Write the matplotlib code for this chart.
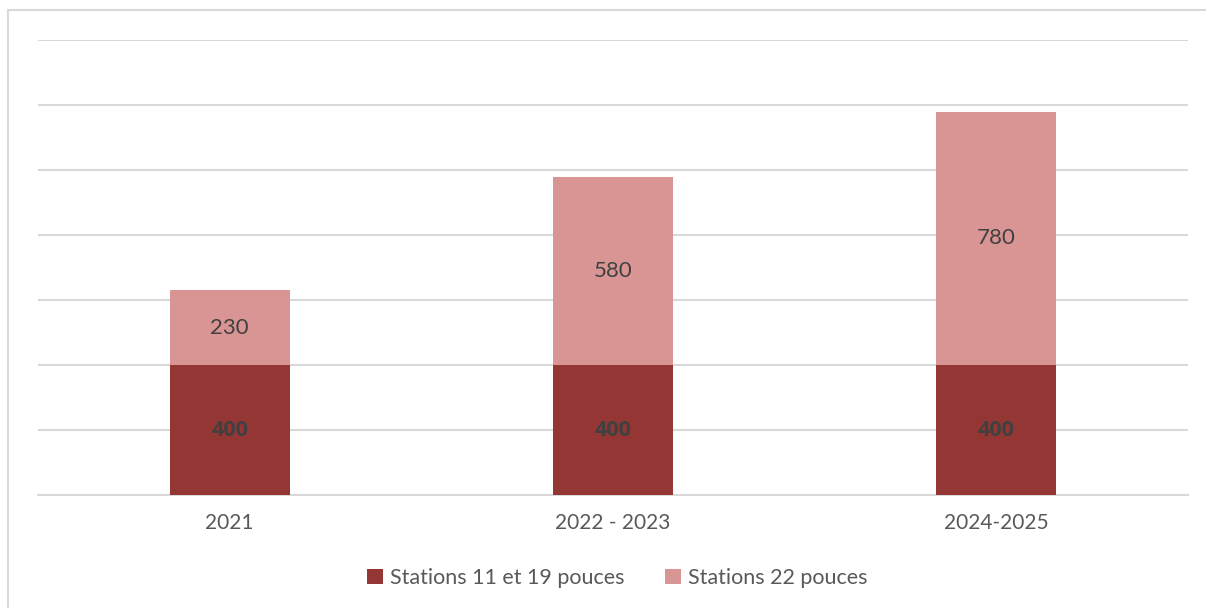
import matplotlib.pyplot as plt
from matplotlib.patches import Rectangle

# Chart data
categories = ['2021', '2022 - 2023', '2024-2025']
stations_11_19 = [400, 400, 400]
stations_22 = [230, 580, 780]
series_names = ['Stations 11 et 19 pouces', 'Stations 22 pouces']

darkRed = '#943634'
lightRed = '#D99594'
textGrey = '#595959'

plt.rcParams['font.family'] = ['Lato', 'DejaVu Sans']

fig = plt.figure(figsize=(12.06, 6.08), dpi=100)
ax = fig.add_axes([38 / 1206, 113 / 608, 1150 / 1206, 455 / 608])

# Light grey frame around the chart area (only top/left visible in the reference)
fig.patches.append(Rectangle((8 / 1206, -0.1), 1.2, 1 - 10 / 608 + 0.1,
                             transform=fig.transFigure, fill=False,
                             edgecolor='#D9D9D9', linewidth=1.5))

x = list(range(len(categories)))
barWidth = 0.313
ax.bar(x, stations_11_19, width=barWidth, color=darkRed, label=series_names[0], zorder=3)
ax.bar(x, stations_22, width=barWidth, bottom=stations_11_19, color=lightRed,
       label=series_names[1], zorder=3)

# Value labels in the middle of each segment (Lato has no bold here, so Open Sans for the bold ones)
for i in x:
    ax.text(i, stations_11_19[i] / 2, str(stations_11_19[i]), ha='center', va='center',
            fontsize=15.5, fontweight='bold', family=['Open Sans', 'DejaVu Sans'],
            color='#404040', zorder=4)
    ax.text(i, stations_11_19[i] + stations_22[i] / 2, str(stations_22[i]), ha='center', va='center',
            fontsize=16, color='#404040', zorder=4)

ax.set_xlim(-0.5, 2.5)
ax.set_ylim(0, 1400)
ax.set_yticks(range(0, 1401, 200))
ax.yaxis.grid(True, color='#D9D9D9', linewidth=1.5, zorder=0)
ax.set_yticklabels([])
ax.tick_params(axis='y', length=0)
ax.tick_params(axis='x', length=0, pad=13, labelsize=15, labelcolor=textGrey)
ax.set_xticks(x)
ax.set_xticklabels(categories)
for side in ['top', 'right', 'left']:
    ax.spines[side].set_visible(False)
ax.spines['bottom'].set_color('#D9D9D9')
ax.spines['bottom'].set_linewidth(1.5)

leg = fig.legend(loc='center', bbox_to_anchor=(617 / 1206, 1 - 578 / 608), ncol=2, frameon=False,
                 fontsize=15.5, handlelength=0.75, handleheight=0.75, handletextpad=0.3,
                 columnspacing=1.9)
for t in leg.get_texts():
    t.set_color(textGrey)

plt.savefig('out.png', dpi=100, facecolor='white')
plt.close()
